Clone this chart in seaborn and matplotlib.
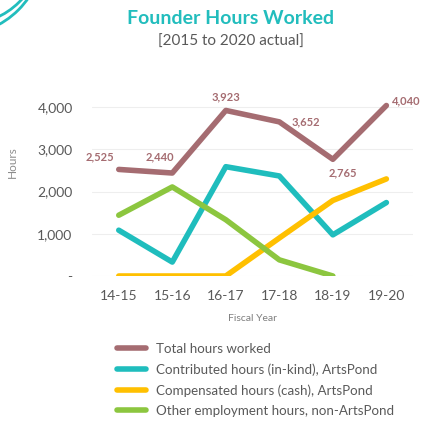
import matplotlib
matplotlib.use("Agg")
import matplotlib.pyplot as plt
from matplotlib.patches import Arc
from matplotlib.ticker import FuncFormatter
import seaborn as sns
import pandas as pd
import numpy as np

years = ["14-15", "15-16", "16-17", "17-18", "18-19", "19-20"]
total = [2525, 2440, 3923, 3652, 2765, 4040]
contributed = [1085, 330, 2590, 2370, 975, 1740]
compensated = [0, 0, 0, 900, 1790, 2300]
other = [1440, 2110, 1333, 382, 0, np.nan]

names = ["Total hours worked",
         "Contributed hours (in-kind), ArtsPond",
         "Compensated hours (cash), ArtsPond",
         "Other employment hours, non-ArtsPond"]
colors = ["#a56c71", "#1fbdbd", "#ffc000", "#8cc63f"]

df = pd.DataFrame({"year": years, names[0]: total, names[1]: contributed,
                   names[2]: compensated, names[3]: other})
df["x"] = range(len(years))
long = df.melt(id_vars=["year", "x"], var_name="series", value_name="hours").dropna()

sns.set_style("white")
plt.rcParams["font.family"] = ["Lato", "DejaVu Sans"]

fig = plt.figure(figsize=(4.22, 4.22), dpi=100)
ax = fig.add_axes([0.218, 0.346, 0.761, 0.44])

sns.lineplot(data=long, x="x", y="hours", hue="series", hue_order=names,
             palette=colors, linewidth=4, ax=ax, legend=False,
             solid_capstyle="round")

ax.set_xlim(-0.5, 5.5)
ax.set_ylim(0, 4400)
ax.set_yticks([0, 1000, 2000, 3000, 4000])
ax.yaxis.set_major_formatter(FuncFormatter(lambda v, p: "-" if v == 0 else f"{int(v):,}"))
ax.set_xticks(range(len(years)))
ax.set_xticklabels(years)
ax.tick_params(axis="both", length=0, labelsize=10, colors="#595959")
ax.tick_params(axis="x", pad=10)
ax.tick_params(axis="y", pad=14)
ax.grid(axis="y", color="#eeeeee", linewidth=0.8)
ax.set_axisbelow(True)
for s in ax.spines.values():
    s.set_visible(False)
ax.set_xlabel("Fiscal Year", fontsize=7.5, color="#7f7f7f", labelpad=9)
ax.set_ylabel("Hours", fontsize=8.5, color="#8c8c8c")
ax.yaxis.set_label_coords(-0.23, 0.614)

offsets = [(-13.7, 9), (-8.6, 11.5), (0, 9.7), (19, 0), (7, -10), (14.4, 3.6)]
for i, v in enumerate(total):
    ax.annotate(f"{v:,}", (i, v), xytext=offsets[i], textcoords="offset points",
                ha="center", va="center", fontsize=8, fontweight="bold",
                color="#a56c71")

fig.text(0.547, 0.955, "Founder Hours Worked", ha="center", va="center",
         fontsize=14, fontweight="bold", color="#22bdbd")
fig.text(0.547, 0.9, "[2015 to 2020 actual]", ha="center", va="center",
         fontsize=11, color="#595959")

handles = [plt.Line2D([], [], color=c, linewidth=4, solid_capstyle="round") for c in colors]
fig.legend(handles, names, loc="upper left", bbox_to_anchor=(0.265, 0.2),
           frameon=False, fontsize=9.6, handlelength=2.2, handletextpad=0.75,
           labelspacing=0.62, labelcolor="#595959", borderaxespad=0)

# decorative arcs in the top-left corner
for cx, cy, r in ((-0.08, 1.12, 0.177), (-0.1, 1.12, 0.203)):
    fig.add_artist(Arc((cx, cy), r * 2, r * 2, theta1=-90, theta2=0,
                       transform=fig.transFigure, color="#22bdbd", linewidth=2))

fig.savefig("out.png", dpi=100, facecolor="white")
